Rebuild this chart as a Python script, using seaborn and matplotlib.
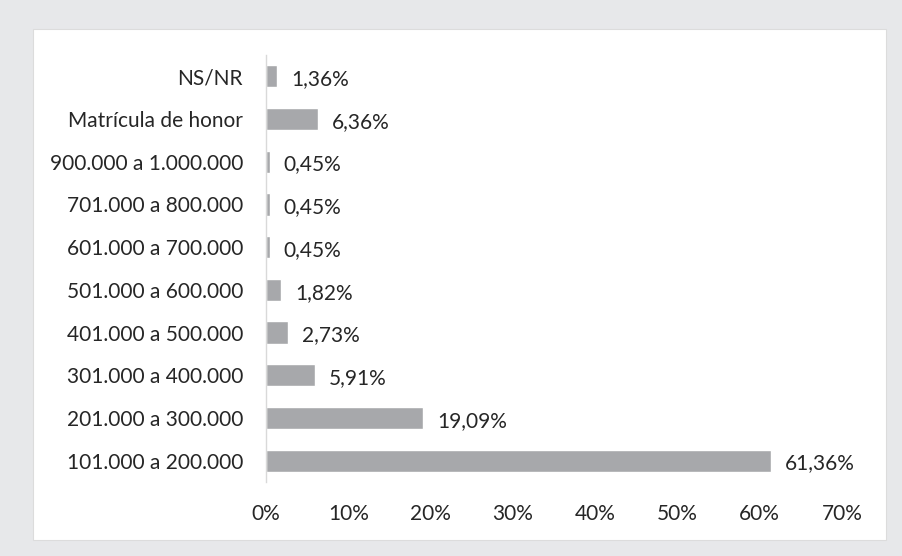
import matplotlib
matplotlib.use("Agg")
import matplotlib.pyplot as plt
import seaborn as sns
import pandas as pd
from matplotlib.patches import Rectangle

categories = ["NS/NR", "Matrícula de honor", "900.000 a 1.000.000", "701.000 a 800.000",
              "601.000 a 700.000", "501.000 a 600.000", "401.000 a 500.000",
              "301.000 a 400.000", "201.000 a 300.000", "101.000 a 200.000"]
values = [1.36, 6.36, 0.45, 0.45, 0.45, 1.82, 2.73, 5.91, 19.09, 61.36]
xticks = [0, 10, 20, 30, 40, 50, 60, 70]

sns.set_theme(style="white")
plt.rcParams['font.family'] = ['Lato', 'DejaVu Sans']

df = pd.DataFrame({"cat": categories, "val": values})

fig = plt.figure(figsize=(9.03, 5.56), dpi=100)
fig.patch.set_facecolor("#e7e8ea")
panel = Rectangle((33/903, 1-540/556), (886-33)/903, (540-29)/556,
                  transform=fig.transFigure, facecolor="white",
                  edgecolor="#dcdcdc", linewidth=0.8, zorder=-10)
fig.add_artist(panel)
ax = fig.add_axes([266/903, 1-482/556, (842-266)/903, (482-55)/556])
ax.set_zorder(1)
ax.set_facecolor("none")
sns.barplot(data=df, x="val", y="cat", order=categories, color="#a7a8ab",
            saturation=1, width=0.52, ax=ax, orient="h")
ax.set_xlim(0, 70)
ax.set_xticks(xticks)
ax.set_xticklabels([f"{t}%" for t in xticks])
ax.set_xlabel("")
ax.set_ylabel("")
for s in ["top", "right", "bottom"]:
    ax.spines[s].set_visible(False)
ax.spines["left"].set_color("#d9d9d9")
ax.spines["left"].set_linewidth(1)
ax.tick_params(axis="both", length=0, labelsize=15, colors="#262626")
ax.tick_params(axis="y", pad=16.5)
ax.tick_params(axis="x", pad=16)
for p, v in zip(ax.patches, values):
    ax.annotate(f"{v:.2f}%".replace(".", ","),
                (p.get_x() + p.get_width(), p.get_y() + p.get_height() / 2),
                xytext=(10, -2), textcoords="offset points",
                ha="left", va="center", fontsize=15, color="#262626")
fig.savefig("out.png", dpi=100, facecolor=fig.get_facecolor())
